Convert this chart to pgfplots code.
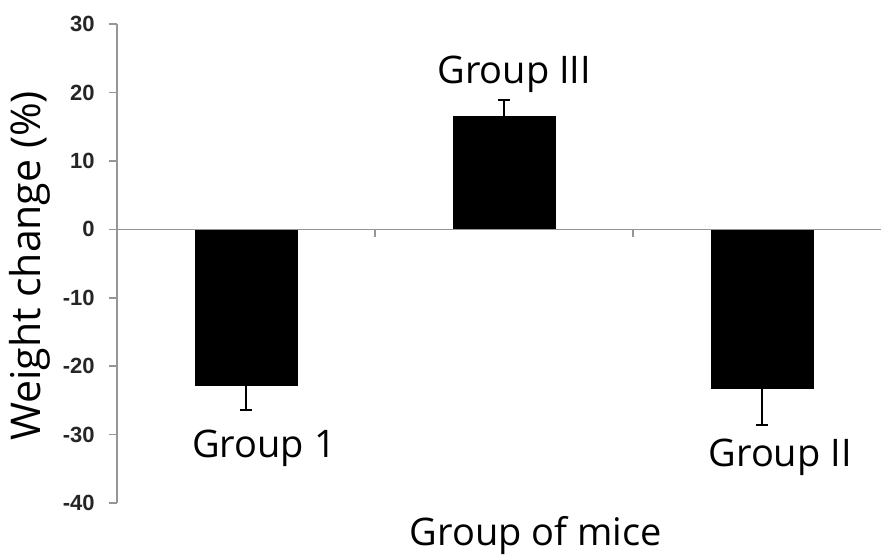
\documentclass[border=0pt]{standalone}
\usepackage{pgfplots}
\pgfplotsset{compat=1.18}
\usepackage{fontspec}
\setmainfont{Liberation Sans}
\newfontfamily\labelfont{Open Sans}
\definecolor{axgray}{RGB}{150,150,150}
\begin{document}
\begin{tikzpicture}
\useasboundingbox (-58.5pt,-25.5pt) rectangle (382pt,251.5pt);
\begin{axis}[
  at={(0,0)}, anchor=south west,
  scale only axis, width=382pt, height=239.5pt,
  xmin=0.5, xmax=3.461, ymin=-40, ymax=30,
  axis x line=none, axis y line=left,
  axis line style={-, axgray, line width=0.8pt},
  ytick={-40,-30,-20,-10,0,10,20,30},
  yticklabels={-40,-30,-20,-10,0,10,20,30},
  tick align=outside, major tick length=4pt,
  tick style={axgray, line width=0.8pt},
  yticklabel style={font=\bfseries\fontsize{11}{13}\selectfont, text=black!85, inner sep=0pt, xshift=-7pt},
  clip=false,
  ybar, bar width=51pt, bar shift=0pt,
]
\addplot[fill=black, draw=black,
  error bars/.cd, y dir=minus, y explicit,
  error bar style={black, line width=0.6pt},
  error mark options={rotate=90, mark size=3pt, black, line width=0.6pt}]
  coordinates {(1,-22.8) -= (0,3.6) (3,-23.3) -= (0,5.3)};
\addplot[fill=black, draw=black,
  error bars/.cd, y dir=plus, y explicit,
  error bar style={black, line width=0.6pt},
  error mark options={rotate=90, mark size=3pt, black, line width=0.6pt}]
  coordinates {(2,16.5) += (0,2.4)};
\draw[axgray, line width=0.8pt] ([xshift=-4pt]axis cs:0.5,0) -- (axis cs:3.461,0);
\draw[axgray, line width=0.8pt] (axis cs:1.5,0) -- ([yshift=-4pt]axis cs:1.5,0);
\draw[axgray, line width=0.8pt] (axis cs:2.5,0) -- ([yshift=-4pt]axis cs:2.5,0);
\node[anchor=base, font=\labelfont\fontsize{19}{22}\selectfont] at (axis cs:1.07,-33.4) {Group 1};
\node[anchor=base, font=\labelfont\fontsize{19}{22}\selectfont] at (axis cs:2.04,21.3) {Group III};
\node[anchor=base, font=\labelfont\fontsize{19}{22}\selectfont] at (axis cs:3.07,-34.7) {Group II};
\node[anchor=base, font=\labelfont\fontsize{19}{22}\selectfont] at ([yshift=-21pt]rel axis cs:0.548,0) {Group of mice};
\node[rotate=90, font=\labelfont\fontsize{20.5}{24}\selectfont] at ([xshift=-43.5pt]rel axis cs:0,0.495) {Weight change (\%)};
\end{axis}
\end{tikzpicture}
\end{document}
